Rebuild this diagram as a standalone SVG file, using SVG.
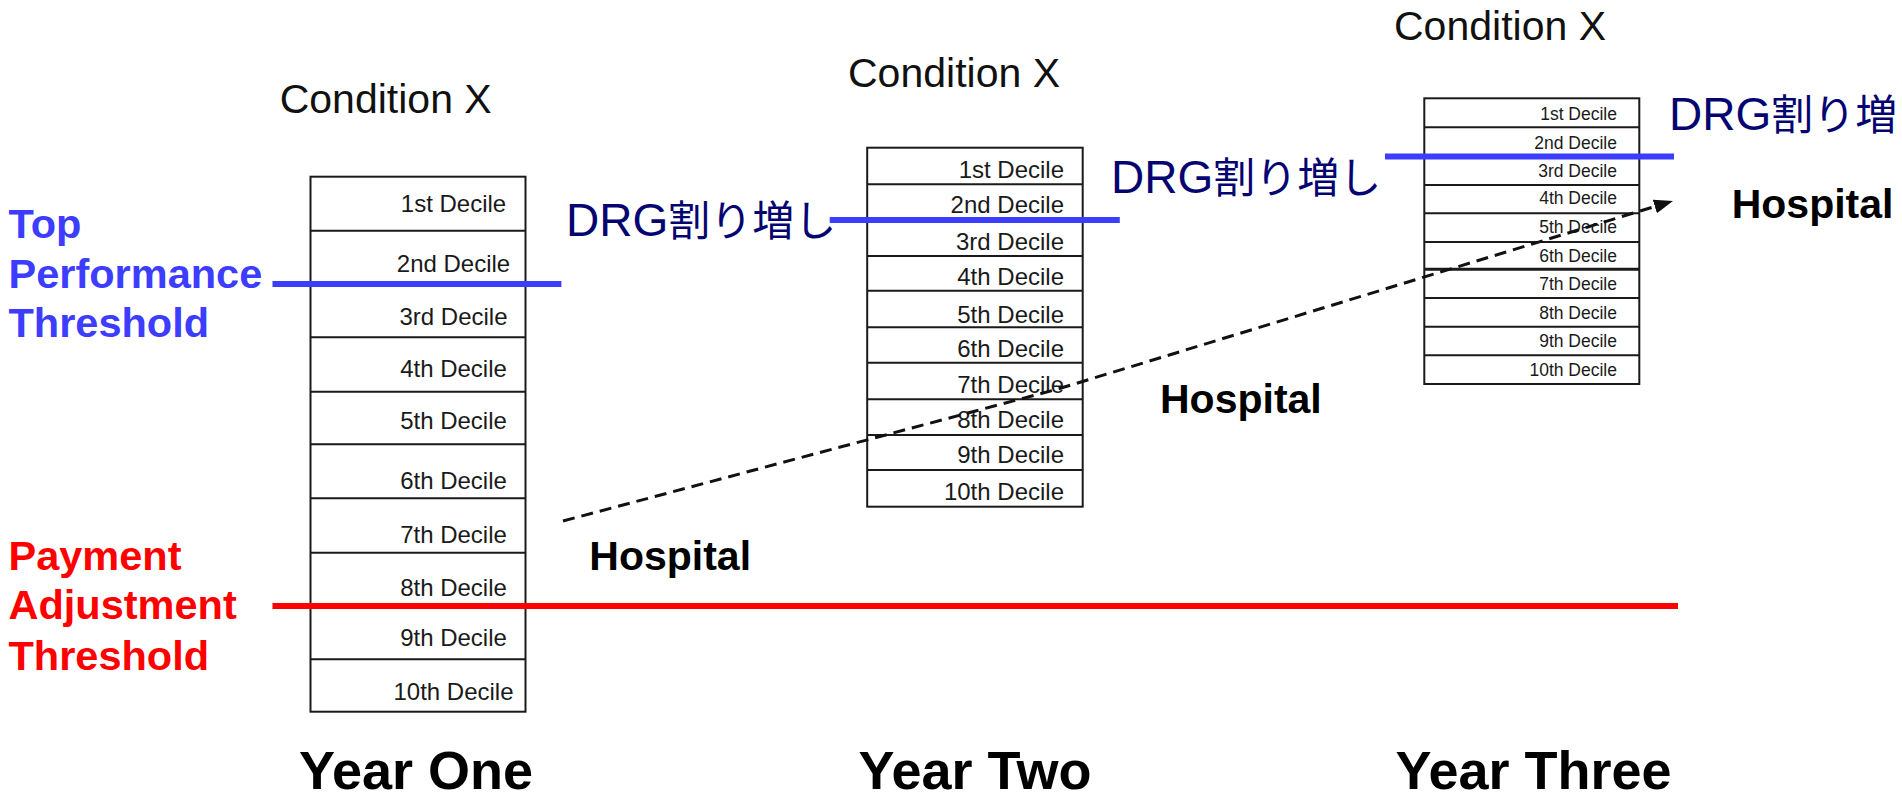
<svg xmlns="http://www.w3.org/2000/svg" width="1902" height="802" viewBox="0 0 1902 802">
<style>
text{font-family:"Liberation Sans",Arial,sans-serif}
.box{fill:#fff;stroke:#1a1a1a;stroke-width:2}
.div{stroke:#1a1a1a;stroke-width:2}
.dec{font-size:24px;fill:#1a1a1a}
.dec3{font-size:17.5px;fill:#1a1a1a}
.cond{font-size:41px;fill:#111}
.year{font-size:54px;font-weight:bold;fill:#000}
.hosp{font-size:41px;font-weight:bold;fill:#000}
.lab{font-size:41.5px;font-weight:bold}
.drg{font-size:46px;fill:#050572;font-family:"Liberation Sans","Noto Sans CJK JP",sans-serif}
.cjk{font-size:42px;font-family:"Noto Sans CJK JP",sans-serif}
.blue{stroke:#3d3dff;stroke-width:6}
.red{stroke:#ff0000;stroke-width:6}
.dash{fill:none;stroke:#111;stroke-width:3;stroke-dasharray:12 7}
</style>
<defs>
<marker id="arr" markerUnits="userSpaceOnUse" markerWidth="19" markerHeight="15" refX="1" refY="7" orient="auto" viewBox="0 0 19 14">
<path d="M0,0 L19,7 L0,14 Z" fill="#111"/>
</marker>
</defs>

<g id="year-one">
<text class="cond" x="385.7" y="112.7" text-anchor="middle">Condition X</text>
<rect class="box" x="310.5" y="176.7" width="215" height="535"/>
<g class="div">
<line x1="310.5" y1="230.7" x2="525.5" y2="230.7"/>
<line x1="310.5" y1="284" x2="525.5" y2="284"/>
<line x1="310.5" y1="337.3" x2="525.5" y2="337.3"/>
<line x1="310.5" y1="391.7" x2="525.5" y2="391.7"/>
<line x1="310.5" y1="444.3" x2="525.5" y2="444.3"/>
<line x1="310.5" y1="498.3" x2="525.5" y2="498.3"/>
<line x1="310.5" y1="552.7" x2="525.5" y2="552.7"/>
<line x1="310.5" y1="608" x2="525.5" y2="608"/>
<line x1="310.5" y1="659.3" x2="525.5" y2="659.3"/>
</g>
<g class="dec" text-anchor="middle">
<text x="453.5" y="211.7">1st Decile</text>
<text x="453.5" y="271.7">2nd Decile</text>
<text x="453.5" y="325">3rd Decile</text>
<text x="453.5" y="377.3">4th Decile</text>
<text x="453.5" y="429">5th Decile</text>
<text x="453.5" y="489.3">6th Decile</text>
<text x="453.5" y="543.3">7th Decile</text>
<text x="453.5" y="596">8th Decile</text>
<text x="453.5" y="645.7">9th Decile</text>
<text x="453.5" y="700">10th Decile</text>
</g>
<text class="year" x="416" y="789" text-anchor="middle">Year One</text>
</g>

<g id="year-two">
<text class="cond" x="954" y="86.7" text-anchor="middle">Condition X</text>
<rect class="box" x="867.2" y="147.7" width="215.5" height="359"/>
<g class="div">
<line x1="867.2" y1="184.3" x2="1082.7" y2="184.3"/>
<line x1="867.2" y1="220" x2="1082.7" y2="220"/>
<line x1="867.2" y1="256" x2="1082.7" y2="256"/>
<line x1="867.2" y1="290.7" x2="1082.7" y2="290.7"/>
<line x1="867.2" y1="327.3" x2="1082.7" y2="327.3"/>
<line x1="867.2" y1="362.7" x2="1082.7" y2="362.7"/>
<line x1="867.2" y1="399.3" x2="1082.7" y2="399.3"/>
<line x1="867.2" y1="435" x2="1082.7" y2="435"/>
<line x1="867.2" y1="470" x2="1082.7" y2="470"/>
</g>
<g class="dec" text-anchor="end">
<text x="1064" y="178.3">1st Decile</text>
<text x="1064" y="213.3">2nd Decile</text>
<text x="1064" y="250">3rd Decile</text>
<text x="1064" y="285">4th Decile</text>
<text x="1064" y="322.7">5th Decile</text>
<text x="1064" y="356.7">6th Decile</text>
<text x="1064" y="392.7">7th Decile</text>
<text x="1064" y="428.3">8th Decile</text>
<text x="1064" y="463.3">9th Decile</text>
<text x="1064" y="500">10th Decile</text>
</g>
<text class="year" x="975" y="789" text-anchor="middle">Year Two</text>
</g>

<g id="year-three">
<text class="cond" x="1500" y="40" text-anchor="middle">Condition X</text>
<rect class="box" x="1424.3" y="98.3" width="215" height="285.7"/>
<g class="div">
<line x1="1424.3" y1="127.3" x2="1639.3" y2="127.3"/>
<line x1="1424.3" y1="156" x2="1639.3" y2="156"/>
<line x1="1424.3" y1="185" x2="1639.3" y2="185"/>
<line x1="1424.3" y1="213.3" x2="1639.3" y2="213.3"/>
<line x1="1424.3" y1="242" x2="1639.3" y2="242"/>
<line x1="1424.3" y1="269.3" x2="1639.3" y2="269.3" stroke-width="3"/>
<line x1="1424.3" y1="298" x2="1639.3" y2="298"/>
<line x1="1424.3" y1="326.7" x2="1639.3" y2="326.7"/>
<line x1="1424.3" y1="355.3" x2="1639.3" y2="355.3"/>
</g>
<g class="dec3" text-anchor="end">
<text x="1617" y="120">1st Decile</text>
<text x="1617" y="148.7">2nd Decile</text>
<text x="1617" y="177.3">3rd Decile</text>
<text x="1617" y="204.3">4th Decile</text>
<text x="1617" y="232.7">5th Decile</text>
<text x="1617" y="262.3">6th Decile</text>
<text x="1617" y="290">7th Decile</text>
<text x="1617" y="318.7">8th Decile</text>
<text x="1617" y="346.7">9th Decile</text>
<text x="1617" y="375.7">10th Decile</text>
</g>
<text class="year" x="1533.5" y="789" text-anchor="middle">Year Three</text>
</g>

<g id="top-threshold">
<text class="lab" fill="#3d3dff" x="8.5"><tspan x="8.5" y="238.3">Top</tspan><tspan x="8.5" y="288.3">Performance</tspan><tspan x="8.5" y="337.3">Threshold</tspan></text>
</g>
<g id="payment-threshold">
<text class="lab" fill="#ff0000" x="8.5"><tspan x="8.5" y="570">Payment</tspan><tspan x="8.5" y="619.3">Adjustment</tspan><tspan x="8.5" y="670">Threshold</tspan></text>
</g>

<g id="drg-labels">
<text class="drg" x="566" y="236">DRG<tspan class="cjk">割り増し</tspan></text>
<text class="drg" x="1111" y="193">DRG<tspan class="cjk">割り増し</tspan></text>
<text class="drg" x="1669" y="130">DRG<tspan class="cjk">割り増</tspan></text>
</g>

<g id="hospitals">
<text class="hosp" x="589.3" y="570">Hospital</text>
<text class="hosp" x="1160" y="413.3">Hospital</text>
<text class="hosp" x="1731.7" y="218.3">Hospital</text>
</g>

<g id="connectors">
<line class="blue" x1="272.5" y1="284" x2="561.4" y2="284"/>
<line class="blue" x1="829.7" y1="220" x2="1119.8" y2="220"/>
<line class="blue" x1="1385" y1="156.5" x2="1674" y2="156.5"/>
<line class="red" x1="272.5" y1="606" x2="1678" y2="606"/>
<path class="dash" d="M563,521 L1058,389 L1655.8,206.2" marker-end="url(#arr)"/>
</g>
</svg>
